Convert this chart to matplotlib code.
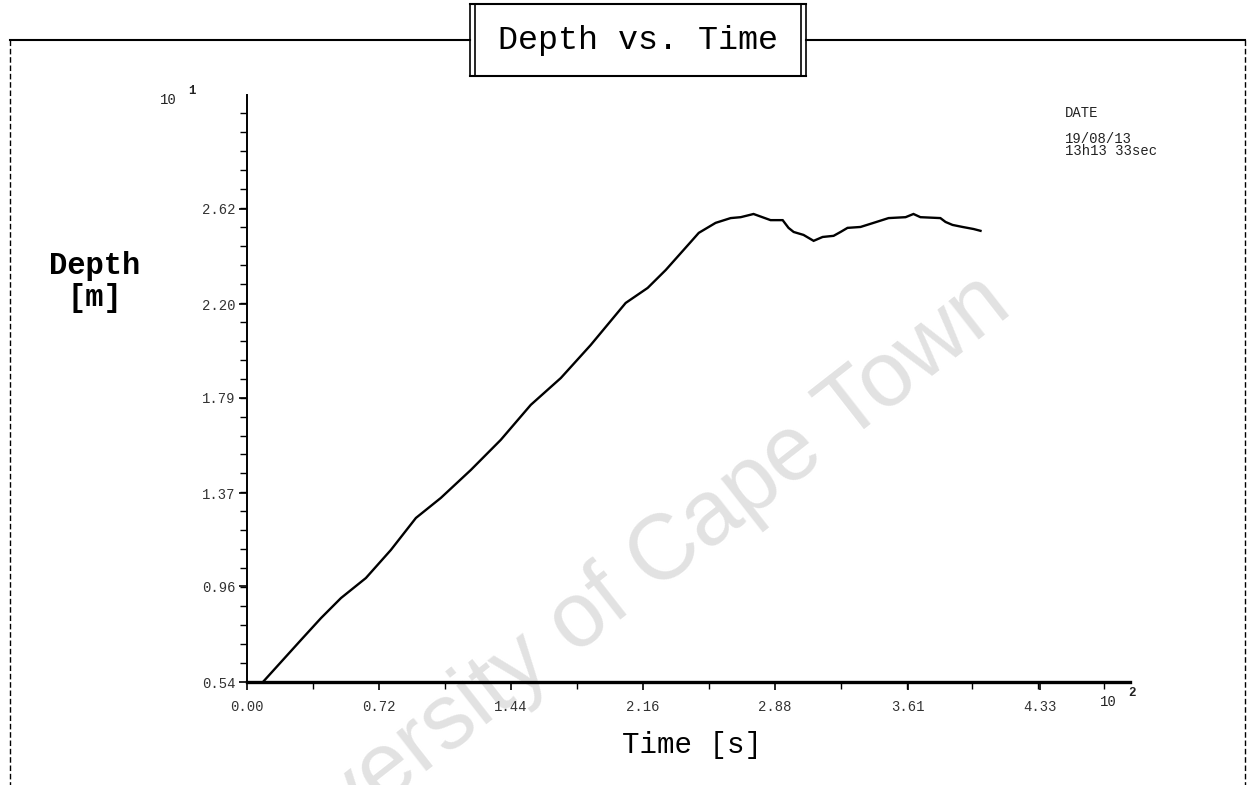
import matplotlib
matplotlib.use("Agg")
import matplotlib.pyplot as plt
from matplotlib.lines import Line2D
from matplotlib.ticker import FixedLocator, MultipleLocator

# Recorded trace: time (x 10^2 s) and depth (x 10^1 m)
time_s = [0.087, 0.295, 0.404, 0.513, 0.649, 0.785, 0.922, 1.058, 1.222,
          1.385, 1.549, 1.713, 1.876, 2.067, 2.187, 2.286, 2.422, 2.466,
          2.558, 2.640, 2.695, 2.765, 2.858, 2.924, 2.956, 2.984, 3.038,
          3.093, 3.142, 3.202, 3.240, 3.278, 3.349, 3.420, 3.502, 3.595,
          3.638, 3.676, 3.785, 3.813, 3.851, 3.906, 3.966, 4.004]
depth_m = [0.540, 0.725, 0.821, 0.909, 0.997, 1.120, 1.261, 1.349, 1.472,
           1.604, 1.758, 1.876, 2.021, 2.206, 2.272, 2.351, 2.474, 2.514,
           2.558, 2.579, 2.583, 2.597, 2.570, 2.570, 2.536, 2.518, 2.505,
           2.479, 2.496, 2.501, 2.518, 2.536, 2.540, 2.558, 2.579, 2.583,
           2.597, 2.583, 2.579, 2.562, 2.549, 2.540, 2.531, 2.523]

x_ticks = [0.00, 0.72, 1.44, 2.16, 2.88, 3.61, 4.33]
x_tick_labels = ["0.00", "0.72", "1.44", "2.16", "2.88", "3.61", "4.33"]
y_ticks = [0.54, 0.96, 1.37, 1.79, 2.20, 2.62]
y_tick_labels = ["0.54", "0.96", "1.37", "1.79", "2.20", "2.62"]

W, H = 1256, 785
MONO = "Liberation Mono"


def fx(px):
    return px / W


def fy(py):
    return 1 - py / H


fig = plt.figure(figsize=(W / 100, H / 100), dpi=100)
fig.patch.set_facecolor("white")

# Plot area
ax = fig.add_axes([fx(247), fy(682), (1130 - 247) / W, (682 - 95) / H])
ax.set_facecolor("none")
ax.plot(time_s, depth_m, color="black", lw=1.7, solid_joinstyle="miter")
ax.set_xlim(0, 4.82)
ax.set_ylim(0.54, 3.12)

for side in ("top", "right"):
    ax.spines[side].set_visible(False)
ax.spines["left"].set_linewidth(1.4)
ax.spines["bottom"].set_linewidth(2.4)

ax.xaxis.set_major_locator(FixedLocator(x_ticks))
ax.set_xticklabels(x_tick_labels)
ax.xaxis.set_minor_locator(MultipleLocator(0.36))
ax.yaxis.set_major_locator(FixedLocator(y_ticks))
ax.set_yticklabels(y_tick_labels)
ax.yaxis.set_minor_locator(MultipleLocator(0.4167 / 5, offset=0.54))

ax.tick_params(axis="both", which="both", direction="out", color="black",
               labelsize=10, labelcolor="#333333")
ax.tick_params(axis="both", which="major", length=6, width=1.2)
ax.tick_params(axis="both", which="minor", length=5, width=1.0)
ax.tick_params(axis="x", which="major", pad=7)
ax.tick_params(axis="y", which="major", pad=2)
for lab in ax.get_xticklabels() + ax.get_yticklabels():
    lab.set_family(MONO)

ax.set_ylabel("Depth\n[m]", rotation=0, family=MONO, fontsize=22,
              fontweight="bold", ha="center", va="center", linespacing=1.1)
ax.yaxis.set_label_coords((95 - 247) / 883, (682 - 282) / 587)
ax.set_xlabel("Time [s]", family=MONO, fontsize=21, va="center")
ax.xaxis.set_label_coords((692 - 247) / 883, (682 - 745) / 587)

# Axis multipliers
fig.text(fx(160), fy(100), "10", family=MONO, fontsize=10, color="#222222",
         va="center")
fig.text(fx(188), fy(91), "1", family=MONO, fontsize=9, color="#222222",
         va="center", fontweight="bold")
fig.text(fx(1100), fy(702), "10", family=MONO, fontsize=10, color="#222222",
         va="center")
fig.text(fx(1128), fy(693), "2", family=MONO, fontsize=9, color="#222222",
         va="center", fontweight="bold")

# Date stamp
fig.text(fx(1065), fy(113), "DATE", family=MONO, fontsize=10, color="#222222",
         va="center")
fig.text(fx(1065), fy(139), "19/08/13", family=MONO, fontsize=10,
         color="#222222", va="center")
fig.text(fx(1065), fy(151), "13h13 33sec", family=MONO, fontsize=10,
         color="#222222", va="center")

# Outer frame
frame_kw = dict(transform=fig.transFigure, color="black")
fig.add_artist(Line2D([fx(10), fx(470)], [fy(40), fy(40)], lw=1.5, **frame_kw))
fig.add_artist(Line2D([fx(806), fx(1245)], [fy(40), fy(40)], lw=1.5, **frame_kw))
fig.add_artist(Line2D([fx(10), fx(10)], [fy(40), fy(785)], lw=1.0,
                      ls=(0, (4, 2)), **frame_kw))
fig.add_artist(Line2D([fx(1245), fx(1245)], [fy(40), fy(785)], lw=1.0,
                      ls=(0, (4, 2)), **frame_kw))

# Title box with doubled side rails
fig.add_artist(Line2D([fx(470), fx(806)], [fy(4), fy(4)], lw=1.5, **frame_kw))
fig.add_artist(Line2D([fx(470), fx(806)], [fy(76), fy(76)], lw=1.5, **frame_kw))
for xv in (470, 475, 801, 806):
    fig.add_artist(Line2D([fx(xv), fx(xv)], [fy(4), fy(76)], lw=1.2, **frame_kw))
fig.text(fx(638), fy(40), "Depth vs. Time", family=MONO, fontsize=24,
         ha="center", va="center", color="black")

# Watermark
fig.text(fx(1014), fy(312), "University of Cape Town", family="Liberation Sans",
         fontsize=66, color="#e2e2e2", rotation=38, rotation_mode="anchor",
         ha="right", va="baseline", zorder=-1)

fig.savefig("out.png", dpi=100)
